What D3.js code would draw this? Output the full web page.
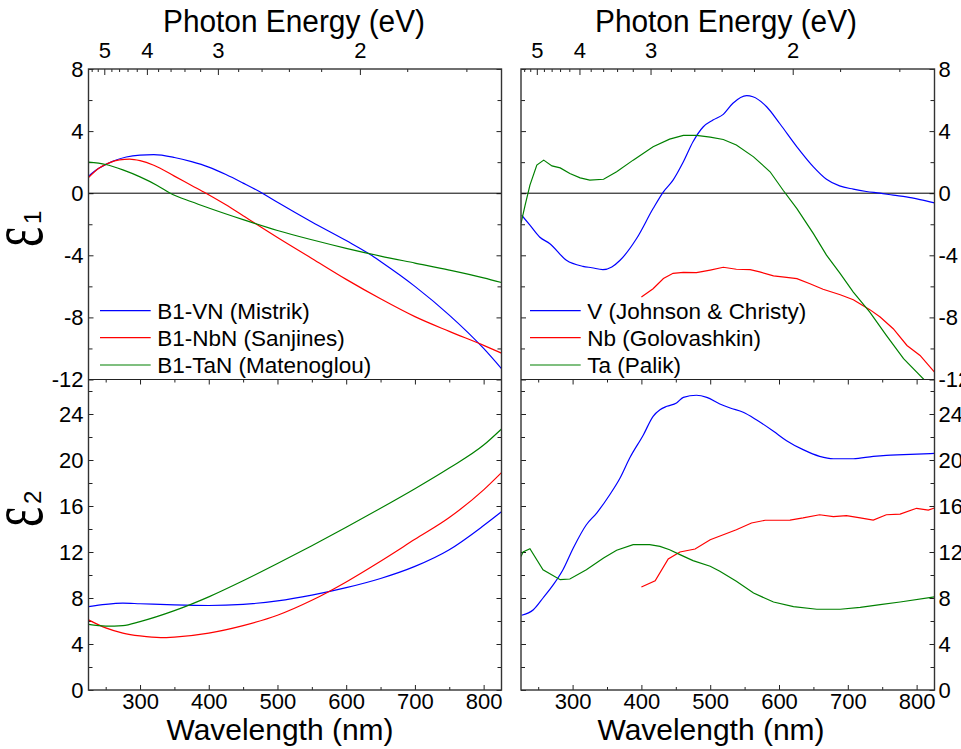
<!DOCTYPE html>
<html>
<head>
<meta charset="utf-8">
<script src="https://cdn.jsdelivr.net/npm/d3@7"></script>
<style>
  html, body { margin: 0; padding: 0; background: #fff; }
  svg { display: block; font-family: "Liberation Sans", Arial, sans-serif; }
</style>
</head>
<body>
<svg id="chart" width="961" height="749"></svg>
<script>
// ---- Data: [wavelength (nm), value] ----
// Nitrides (left column)
const vnE1  = [[225,1.1],[240,1.6],[260,2.05],[280,2.33],[300,2.45],[320,2.48],[350,2.3],[375,2.03],[400,1.68],[425,1.2],[450,0.65],[478,0],[500,-0.58],[550,-1.85],[600,-3.05],[635,-3.95],[650,-4.4],[700,-6.0],[750,-7.85],[800,-10.0],[826,-11.3]];
const nbnE1 = [[225,1.0],[240,1.6],[255,1.95],[270,2.15],[285,2.2],[300,2.1],[320,1.8],[350,1.1],[375,0.5],[396,0],[425,-0.75],[450,-1.45],[500,-2.85],[550,-4.2],[600,-5.55],[650,-6.8],[700,-7.95],[750,-8.9],[800,-9.8],[826,-10.3]];
const tanE1 = [[225,2.0],[250,1.85],[275,1.5],[300,1.05],[325,0.5],[344,0],[375,-0.55],[400,-0.95],[450,-1.7],[500,-2.4],[550,-3.0],[600,-3.55],[650,-4.05],[700,-4.5],[750,-4.95],[800,-5.45],[826,-5.75]];
const vnE2  = [[225,7.25],[250,7.45],[275,7.55],[300,7.5],[350,7.4],[400,7.35],[450,7.45],[500,7.75],[550,8.25],[600,8.9],[650,9.7],[700,10.75],[750,12.2],[800,14.3],[826,15.5]];
const nbnE2 = [[225,6.1],[250,5.4],[275,4.95],[300,4.7],[330,4.55],[350,4.6],[400,4.95],[450,5.6],[500,6.5],[550,7.8],[600,9.4],[650,11.2],[700,13.1],[750,15.0],[800,17.4],[826,18.9]];
const tanE2 = [[225,5.7],[250,5.55],[275,5.6],[300,5.95],[350,6.9],[400,8.1],[450,9.5],[500,11.0],[550,12.55],[600,14.15],[650,15.8],[700,17.5],[750,19.3],[800,21.3],[826,22.7]];

// Metals (right column)
const vE1  = [[226,-1.42],[238,-2.06],[252,-2.82],[267,-3.25],[291,-4.32],[315,-4.71],[328,-4.8],[344,-4.92],[357,-4.75],[369,-4.32],[393,-2.92],[417,-0.99],[432,0.09],[446,0.84],[461,2.02],[475,3.31],[490,4.28],[504,4.71],[519,5.08],[533,5.79],[553,6.28],[562,6.21],[582,5.57],[601,4.49],[626,2.99],[650,1.7],[669,0.9],[688,0.47],[708,0.26],[727,0.11],[747,0],[766,-0.13],[785,-0.24],[805,-0.41],[826,-0.62]];
const nbE1 = [[400,-6.69],[417,-6.15],[432,-5.5],[446,-5.16],[461,-5.1],[480,-5.12],[500,-4.95],[519,-4.77],[538,-4.9],[558,-4.92],[572,-5.07],[592,-5.33],[611,-5.42],[626,-5.5],[645,-5.83],[664,-6.19],[689,-6.54],[708,-6.86],[732,-7.5],[747,-7.98],[766,-8.73],[786,-9.81],[805,-10.45],[826,-11.53]];
const taE1 = [[225,-1.95],[231,-0.77],[238,0.52],[248,1.81],[258,2.13],[270,1.76],[282,1.63],[296,1.27],[311,0.99],[325,0.84],[345,0.9],[364,1.38],[388,2.13],[417,2.99],[441,3.48],[461,3.72],[480,3.72],[500,3.61],[519,3.46],[538,3.1],[563,2.34],[587,1.38],[606,0.19],[626,-0.99],[650,-2.6],[669,-3.99],[689,-5.18],[708,-6.37],[732,-7.66],[756,-9.16],[781,-10.66],[812,-12.06],[826,-12.7]];
const vE2  = [[226,6.5],[243,6.98],[257,8.0],[272,9.16],[286,10.46],[301,12.35],[320,14.37],[335,15.39],[354,16.98],[369,18.43],[383,20.17],[403,22.2],[417,23.8],[427,24.37],[437,24.67],[451,24.96],[461,25.45],[480,25.63],[495,25.45],[514,24.87],[529,24.52],[548,24.15],[567,23.5],[592,22.5],[611,21.68],[635,20.9],[659,20.32],[679,20.11],[708,20.11],[737,20.32],[756,20.41],[781,20.46],[826,20.58]];
const nbE2 = [[400,8.96],[420,9.5],[439,11.39],[456,12.0],[478,12.26],[500,13.07],[519,13.5],[538,13.94],[560,14.52],[580,14.76],[599,14.76],[616,14.78],[635,14.96],[659,15.24],[679,15.07],[698,15.16],[718,14.96],[737,14.78],[756,15.24],[776,15.3],[800,15.8],[817,15.65],[826,15.83]];
const taE2 = [[225,11.6],[228,12.0],[238,12.29],[257,10.46],[282,9.59],[296,9.65],[320,10.46],[345,11.48],[364,12.15],[388,12.64],[412,12.64],[427,12.49],[441,12.2],[456,11.77],[475,11.25],[500,10.76],[514,10.32],[538,9.45],[563,8.43],[592,7.65],[621,7.25],[655,7.02],[689,7.02],[718,7.19],[747,7.42],[776,7.65],[826,8.09]];

// Legend labels and colours
const leftNames  = ["B1-VN (Mistrik)", "B1-NbN (Sanjines)", "B1-TaN (Matenoglou)"];
const rightNames = ["V (Johnson & Christy)", "Nb (Golovashkin)", "Ta (Palik)"];
const colors = ["#0000ff", "#ff0000", "#008000"];

// Axis ticks
const wlDomain = [225, 826];
const wlMajor = [300, 400, 500, 600, 700, 800];
const wlMinor = [250, 350, 450, 550, 650, 750];
const evMajor = [5, 4, 3, 2];
const evMinor = [5.4, 5.2, 4.8, 4.6, 4.4, 4.2, 3.8, 3.6, 3.4, 3.2, 2.8, 2.6, 2.4, 2.2, 1.8, 1.6];
const e1Major = [-12, -8, -4, 0, 4, 8];
const e1Minor = [-10, -6, -2, 2, 6];
const e2Major = [0, 4, 8, 12, 16, 20, 24];
const e2Minor = [2, 6, 10, 14, 18, 22, 26];
const hc = 1239.84; // eV·nm

// ---- Layout ----
const svg = d3.select("#chart");
const yTopPx = 69, yMidPx = 379.5, yBotPx = 690;
const yTop = d3.scaleLinear().domain([-12, 8]).range([yMidPx, yTopPx]);
const yBot = d3.scaleLinear().domain([0, 27]).range([yBotPx, yMidPx]);
const fontTick = 22;

const panels = [
  { x0: 88.5, x1: 501.5, labelsLeft: true,  names: leftNames,  e1: [vnE1, nbnE1, tanE1], e2: [vnE2, nbnE2, tanE2], smooth: [true, true, true],  legLine: [100, 150.7], legText: 157.3, titleX: 294, wlTitleX: 280 },
  { x0: 521,  x1: 934.5, labelsLeft: false, names: rightNames, e1: [vE1, nbE1, taE1],    e2: [vE2, nbE2, taE2],    smooth: [true, false, false], legLine: [530, 580.7], legText: 587.3, titleX: 726, wlTitleX: 711 }
];

function styleAxis(g, showText) {
  g.select(".domain").remove();
  g.selectAll(".tick line").attr("stroke", "#222").attr("stroke-width", 1);
  g.selectAll(".tick text")
    .attr("fill", "#000")
    .style("font-size", fontTick + "px")
    .style("font-family", "'Liberation Sans', Arial, sans-serif")
    .style("display", showText ? null : "none");
}

panels.forEach((p, i) => {
  const x = d3.scaleLinear().domain(wlDomain).range([p.x0, p.x1]);
  const gp = svg.append("g");

  const clipId = "clip" + i;
  const defs = svg.append("defs");
  defs.append("clipPath").attr("id", clipId + "t")
    .append("rect").attr("x", p.x0).attr("y", yTopPx).attr("width", p.x1 - p.x0).attr("height", yMidPx - yTopPx);
  defs.append("clipPath").attr("id", clipId + "b")
    .append("rect").attr("x", p.x0).attr("y", yMidPx).attr("width", p.x1 - p.x0).attr("height", yBotPx - yMidPx);

  // bottom wavelength axis
  gp.append("g").attr("transform", `translate(0,${yBotPx})`)
    .call(d3.axisBottom(x).tickValues(wlMajor).tickSize(-5).tickPadding(3).tickFormat(d3.format("d")))
    .call(g => styleAxis(g, true));
  gp.append("g").attr("transform", `translate(0,${yBotPx})`)
    .call(d3.axisBottom(x).tickValues(wlMinor).tickSize(-3))
    .call(g => styleAxis(g, false));
  // ticks on the divider, pointing into the lower panel
  gp.append("g").attr("transform", `translate(0,${yMidPx})`)
    .call(d3.axisTop(x).tickValues(wlMajor).tickSize(-5))
    .call(g => styleAxis(g, false));
  gp.append("g").attr("transform", `translate(0,${yMidPx})`)
    .call(d3.axisTop(x).tickValues(wlMinor).tickSize(-3))
    .call(g => styleAxis(g, false));

  // top photon-energy axis (positions via wavelength = hc/E)
  gp.append("g").attr("transform", `translate(0,${yTopPx})`)
    .call(d3.axisTop(x).tickValues(evMajor.map(e => hc / e)).tickSize(-6).tickPadding(11)
      .tickFormat(d => d3.format("d")(Math.round(hc / d))))
    .call(g => styleAxis(g, true));
  gp.append("g").attr("transform", `translate(0,${yTopPx})`)
    .call(d3.axisTop(x).tickValues(evMinor.map(e => hc / e)).tickSize(-3))
    .call(g => styleAxis(g, false));

  // vertical axes
  const yAxes = [[yTop, e1Major, e1Minor], [yBot, e2Major, e2Minor]];
  yAxes.forEach(([ys, maj, mnr]) => {
    const fmt = d => d < 0 ? "-" + Math.abs(d) : String(d);
    gp.append("g").attr("transform", `translate(${p.x0},0)`)
      .call(d3.axisLeft(ys).tickValues(maj).tickSize(-5).tickPadding(5).tickFormat(fmt))
      .call(g => styleAxis(g, p.labelsLeft));
    gp.append("g").attr("transform", `translate(${p.x0},0)`)
      .call(d3.axisLeft(ys).tickValues(mnr).tickSize(-4))
      .call(g => styleAxis(g, false));
    gp.append("g").attr("transform", `translate(${p.x1},0)`)
      .call(d3.axisRight(ys).tickValues(maj).tickSize(-5).tickPadding(4).tickFormat(fmt))
      .call(g => styleAxis(g, !p.labelsLeft));
    gp.append("g").attr("transform", `translate(${p.x1},0)`)
      .call(d3.axisRight(ys).tickValues(mnr).tickSize(-4))
      .call(g => styleAxis(g, false));
  });

  // zero line of ε1
  gp.append("line")
    .attr("x1", p.x0).attr("x2", p.x1)
    .attr("y1", yTop(0)).attr("y2", yTop(0))
    .attr("stroke", "#000").attr("stroke-width", 1);

  // curves
  const mk = (ys, smooth) => d3.line()
    .x(d => x(d[0])).y(d => ys(d[1]))
    .curve(smooth ? d3.curveMonotoneX : d3.curveLinear);
  p.e1.forEach((s, k) => {
    gp.append("path").attr("clip-path", `url(#${clipId}t)`)
      .attr("d", mk(yTop, p.smooth[k])(s))
      .attr("fill", "none").attr("stroke", colors[k]).attr("stroke-width", 1.2);
  });
  p.e2.forEach((s, k) => {
    gp.append("path").attr("clip-path", `url(#${clipId}b)`)
      .attr("d", mk(yBot, p.smooth[k])(s))
      .attr("fill", "none").attr("stroke", colors[k]).attr("stroke-width", 1.2);
  });

  // frame
  gp.append("rect")
    .attr("x", p.x0).attr("y", yTopPx)
    .attr("width", p.x1 - p.x0).attr("height", yBotPx - yTopPx)
    .attr("fill", "none").attr("stroke", "#333").attr("stroke-width", 1.4);
  gp.append("line")
    .attr("x1", p.x0).attr("x2", p.x1).attr("y1", yMidPx).attr("y2", yMidPx)
    .attr("stroke", "#222").attr("stroke-width", 1.2);

  // legend
  const legRows = [310.7, 337.7, 365];
  p.names.forEach((name, k) => {
    gp.append("line")
      .attr("x1", p.legLine[0]).attr("x2", p.legLine[1])
      .attr("y1", legRows[k]).attr("y2", legRows[k])
      .attr("stroke", colors[k]).attr("stroke-width", 1.2);
    gp.append("text")
      .attr("x", p.legText).attr("y", legRows[k] + 8)
      .style("font-size", "22.5px")
      .text(name);
  });

  // axis titles
  gp.append("text")
    .attr("x", p.titleX).attr("y", 31.7)
    .attr("text-anchor", "middle")
    .attr("textLength", 262).attr("lengthAdjust", "spacingAndGlyphs")
    .style("font-size", "31px")
    .text("Photon Energy (eV)");
  gp.append("text")
    .attr("x", p.wlTitleX).attr("y", 740)
    .attr("text-anchor", "middle")
    .attr("textLength", 227).attr("lengthAdjust", "spacingAndGlyphs")
    .style("font-size", "30px")
    .text("Wavelength (nm)");
});

// ε1 / ε2 labels on the left
[[247, "1"], [527, "2"]].forEach(([yy, sub]) => {
  svg.append("text")
    .attr("transform", `translate(42,${yy}) rotate(-90) scale(1,1.6)`)
    .style("font-family", "'Liberation Serif', 'Times New Roman', serif")
    .style("font-size", "48px")
    .text("ε");
  svg.append("text")
    .attr("transform", `translate(41,${yy - 23}) rotate(-90)`)
    .style("font-size", "24px")
    .text(sub);
});
</script>
</body>
</html>
